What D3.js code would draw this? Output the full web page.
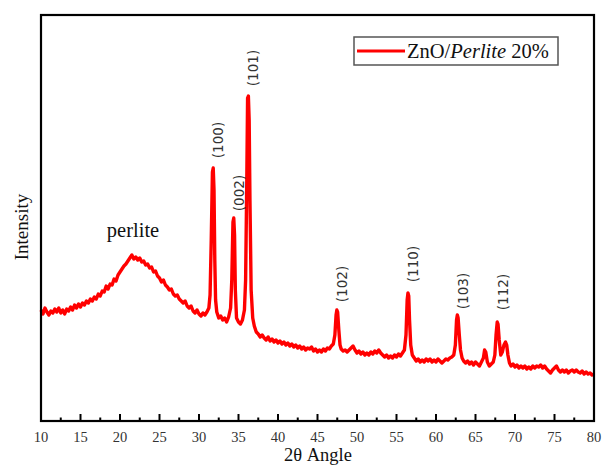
<!DOCTYPE html>
<html><head><meta charset="utf-8">
<script src="https://cdn.jsdelivr.net/npm/d3@7"></script>
<style>body{margin:0;background:#fff}svg{display:block}</style>
</head><body>
<script>
const twoTheta = [10,10.25,10.5,10.75,11,11.25,11.5,11.75,12,12.25,12.5,12.75,13,13.25,13.5,13.75,14,14.25,14.5,14.75,15,15.25,15.5,15.75,16,16.25,16.5,16.75,17,17.25,17.5,17.75,18,18.25,18.5,18.75,19,19.25,19.5,19.75,20,20.25,20.5,20.75,21,21.25,21.5,21.75,22,22.25,22.5,22.75,23,23.25,23.5,23.75,24,24.25,24.5,24.75,25,25.25,25.5,25.75,26,26.25,26.5,26.75,27,27.25,27.5,27.75,28,28.25,28.5,28.75,29,29.25,29.5,29.75,30,30.25,30.5,30.75,31,31.25,31.4,31.55,31.7,31.8,31.9,32,32.1,32.25,32.5,32.75,33,33.25,33.5,33.75,34,34.15,34.3,34.4,34.5,34.6,34.75,35,35.25,35.5,35.75,35.9,36.05,36.15,36.25,36.35,36.45,36.6,36.8,37,37.25,37.5,37.75,38,38.25,38.5,38.75,39,39.25,39.5,39.75,40,40.25,40.5,40.75,41,41.25,41.5,41.75,42,42.25,42.5,42.75,43,43.25,43.5,43.75,44,44.25,44.5,44.75,45,45.25,45.5,45.75,46,46.25,46.5,46.75,47,47.2,47.35,47.45,47.55,47.7,47.85,48,48.25,48.5,48.75,49,49.25,49.5,49.75,50,50.25,50.5,50.75,51,51.25,51.5,51.75,52,52.25,52.5,52.75,53,53.25,53.5,53.75,54,54.25,54.5,54.75,55,55.25,55.5,55.75,56,56.2,56.35,56.45,56.55,56.65,56.8,57,57.25,57.5,57.75,58,58.25,58.5,58.75,59,59.25,59.5,59.75,60,60.25,60.5,60.75,61,61.25,61.5,61.75,62,62.25,62.45,62.6,62.7,62.8,62.95,63.1,63.3,63.5,63.75,64,64.25,64.5,64.75,65,65.25,65.5,65.75,66,66.15,66.3,66.5,66.75,67,67.25,67.45,67.6,67.75,67.85,68,68.2,68.4,68.6,68.8,68.95,69.1,69.3,69.5,69.75,70,70.25,70.5,70.75,71,71.25,71.5,71.75,72,72.25,72.5,72.75,73,73.25,73.5,73.75,74,74.25,74.5,74.75,75,75.25,75.5,75.75,76,76.25,76.5,76.75,77,77.25,77.5,77.75,78,78.25,78.5,78.75,79,79.25,79.5,79.75,80];
const intensity = [1110,1070,1130,1090,1060,1100,1080,1120,1090,1130,1080,1110,1070,1120,1100,1140,1110,1160,1130,1170,1140,1180,1160,1200,1180,1220,1200,1240,1220,1270,1250,1300,1290,1350,1320,1370,1360,1420,1400,1460,1490,1520,1550,1570,1600,1630,1660,1620,1640,1610,1630,1590,1600,1560,1570,1530,1540,1490,1500,1450,1430,1390,1410,1360,1340,1310,1320,1270,1250,1260,1220,1200,1180,1200,1150,1130,1150,1100,1080,1110,1070,1050,1080,1060,1090,1130,1260,1810,2490,2530,2310,1610,1210,1090,1030,1050,1010,1030,990,1040,1130,1410,1990,2030,1860,1310,1030,990,970,1010,1110,1410,2410,3230,3250,3010,2210,1310,1030,950,890,870,840,860,830,810,840,800,820,790,810,780,800,770,790,760,780,750,770,740,760,730,750,720,740,710,730,720,740,700,720,690,710,690,720,700,730,720,750,770,860,1060,1110,1090,910,760,720,700,710,690,710,730,750,710,680,700,670,690,660,680,660,690,670,700,680,710,680,660,640,660,630,650,630,660,640,670,650,680,710,860,1210,1280,1250,1010,760,660,630,600,620,590,610,590,620,600,620,590,610,590,620,600,580,600,620,610,630,640,660,760,1010,1060,1030,860,710,630,600,580,600,570,590,560,590,570,550,590,630,710,690,590,550,570,590,660,860,990,970,810,660,690,760,790,760,660,580,550,570,540,560,530,550,530,550,520,540,520,550,530,550,540,560,530,550,520,500,480,510,530,550,510,490,510,490,510,480,500,510,490,510,490,480,500,470,490,470,480,460,470];
const xTicks = [10,15,20,25,30,35,40,45,50,55,60,65,70,75,80];
const peakLabels = ["(100)","(002)","(101)","(102)","(110)","(103)","(112)"];
const peakTheta = [31.8,34.4,36.2,47.5,56.5,62.8,67.8];
const peakLabelLevel = [2810,2280,3530,1370,1570,1300,1290];
const seriesName = ["ZnO/", "Perlite", " 20%"];

const W=604,H=467, L=41, R=594, T=15, B=421;
const svg = d3.select("body").append("svg").attr("width",W).attr("height",H);
const x = d3.scaleLinear().domain([10,80]).range([L,R]);
const y = d3.scaleLinear().domain([0,4060]).range([B,T]);
const serif = "'Liberation Serif','Times New Roman',serif";

const data = twoTheta.map((t,i)=>[t,intensity[i]]);
svg.append("path").datum(data)
  .attr("d", d3.line().x(d=>x(d[0])).y(d=>y(d[1])))
  .attr("fill","none").attr("stroke","#ff0000").attr("stroke-width",3.4).attr("stroke-linejoin","round");

// axis ticks (inward)
const minor = d3.range(12.5,80,5);
svg.append("g").selectAll("line").data(xTicks).join("line")
  .attr("x1",d=>x(d)).attr("x2",d=>x(d)).attr("y1",B).attr("y2",B-7)
  .attr("stroke","#000").attr("stroke-width",2);
svg.append("g").selectAll("line").data(minor).join("line")
  .attr("x1",d=>x(d)).attr("x2",d=>x(d)).attr("y1",B).attr("y2",B-3.5)
  .attr("stroke","#000").attr("stroke-width",2);
svg.append("g").selectAll("text").data(xTicks).join("text")
  .attr("x",d=>x(d)).attr("y",442).attr("text-anchor","middle")
  .attr("font-family",serif).attr("font-size",14.5).attr("fill","#333").text(d=>d);

// frame
svg.append("rect").attr("x",L).attr("y",T).attr("width",R-L).attr("height",B-T)
  .attr("fill","none").attr("stroke","#000").attr("stroke-width",2.2);

// axis titles
svg.append("text").attr("x",318).attr("y",461).attr("text-anchor","middle")
  .attr("font-family",serif).attr("font-size",18.5).attr("fill","#111").text("2θ Angle");
svg.append("text").attr("transform","translate(28,227) rotate(-90)").attr("text-anchor","middle")
  .attr("font-family",serif).attr("font-size",19).attr("fill","#111").text("Intensity");

// peak labels
svg.append("g").selectAll("text").data(peakLabels).join("text")
  .attr("transform",(d,i)=>`translate(${x(peakTheta[i])+5},${y(peakLabelLevel[i])}) rotate(-90)`)
  .attr("text-anchor","middle").attr("dominant-baseline","central")
  .attr("font-family","'DejaVu Sans',sans-serif").attr("font-size",13.5).attr("fill","#333")
  .text(d=>d);

svg.append("text").attr("x",133).attr("y",237).attr("text-anchor","middle")
  .attr("font-family",serif).attr("font-size",20.5).attr("fill","#111").text("perlite");

// legend
svg.append("rect").attr("x",354).attr("y",37).attr("width",204).attr("height",28)
  .attr("fill","#fff").attr("stroke","#555").attr("stroke-width",1.5);
svg.append("line").attr("x1",357).attr("x2",405).attr("y1",51).attr("y2",51)
  .attr("stroke","#ff0000").attr("stroke-width",2.8);
const lt = svg.append("text").attr("x",407).attr("y",57.5).attr("font-family",serif).attr("font-size",20.5).attr("fill","#111");
lt.append("tspan").text(seriesName[0]);
lt.append("tspan").attr("font-style","italic").text(seriesName[1]);
lt.append("tspan").text(seriesName[2]);
</script>
</body></html>
